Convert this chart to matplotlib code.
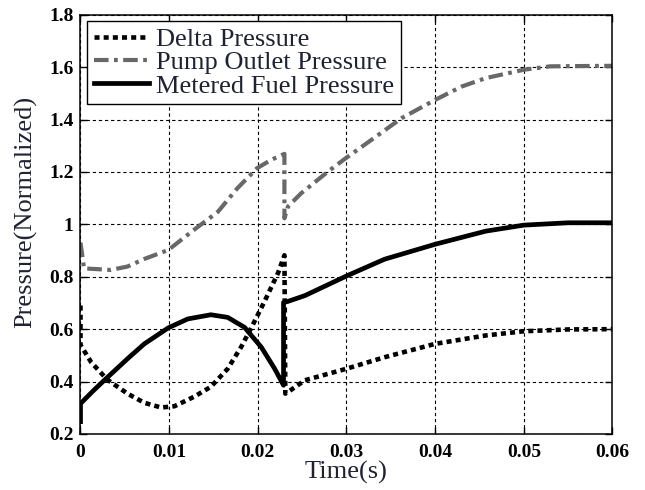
import matplotlib

matplotlib.use("Agg")
import matplotlib.pyplot as plt

# Delta pressure
delta_t = [0, 0, 0.0012, 0.003, 0.0053, 0.0072, 0.0091, 0.0106, 0.0128, 0.0147, 0.0166,
           0.0181, 0.0192, 0.0208, 0.0215, 0.0223, 0.023, 0.0231, 0.0234, 0.0253, 0.030,
           0.0343, 0.040, 0.0457, 0.050, 0.055, 0.060]
delta_p = [0.69, 0.54, 0.474, 0.408, 0.354, 0.319, 0.301, 0.306, 0.342, 0.38, 0.449,
           0.531, 0.601, 0.709, 0.759, 0.816, 0.882, 0.354, 0.36, 0.405, 0.449,
           0.493, 0.544, 0.576, 0.592, 0.599, 0.60]

# Pump outlet pressure
pump_t = [0, 0.0004, 0.0034, 0.0053, 0.0072, 0.0099, 0.0128, 0.0155, 0.0177, 0.0199,
          0.0215, 0.023, 0.023, 0.0234, 0.0249, 0.0279, 0.0299, 0.0328, 0.0362, 0.040,
          0.043, 0.0457, 0.050, 0.053, 0.060]
pump_p = [0.93, 0.832, 0.826, 0.839, 0.868, 0.902, 0.979, 1.048, 1.138, 1.214,
          1.246, 1.269, 1.023, 1.068, 1.119, 1.201, 1.252, 1.322, 1.405, 1.475,
          1.526, 1.558, 1.59, 1.603, 1.605]

# Metered fuel pressure
fuel_t = [0, 0, 0.0015, 0.003, 0.0053, 0.0072, 0.0099, 0.0121, 0.0147, 0.0166, 0.0185,
          0.0204, 0.0219, 0.0229, 0.0229, 0.0234, 0.0253, 0.030, 0.0343, 0.040, 0.0457,
          0.050, 0.055, 0.060]
fuel_p = [0.247, 0.316, 0.367, 0.415, 0.487, 0.544, 0.605, 0.639, 0.655, 0.645, 0.607,
          0.531, 0.449, 0.386, 0.702, 0.706, 0.728, 0.803, 0.867, 0.924, 0.974,
          0.997, 1.006, 1.006]

x_ticks = [0, 0.01, 0.02, 0.03, 0.04, 0.05, 0.06]
x_labels = ["0", "0.01", "0.02", "0.03", "0.04", "0.05", "0.06"]
y_ticks = [0.2, 0.4, 0.6, 0.8, 1.0, 1.2, 1.4, 1.6, 1.8]
y_labels = ["0.2", "0.4", "0.6", "0.8", "1", "1.2", "1.4", "1.6", "1.8"]

serif = "Liberation Serif"
label_color = "#1e2233"

fig = plt.figure(figsize=(6.45, 4.9), dpi=100)
ax = fig.add_axes([0.1248, 0.1143, 0.8248, 0.8557])

ax.plot(delta_t, delta_p, color="black", lw=3.3, linestyle=(0, (1.1, 0.9)),
        label="Delta Pressure")
ax.plot(pump_t, pump_p, color="#686868", lw=3.0, linestyle=(0, (3.5, 1.3, 0.9, 1.3)),
        label="Pump Outlet Pressure")
ax.plot(fuel_t, fuel_p, color="black", lw=3.4, label="Metered Fuel Pressure")

ax.set_xlim(0, 0.06)
ax.set_ylim(0.2, 1.8)
ax.set_xticks(x_ticks)
ax.set_xticklabels(x_labels)
ax.set_yticks(y_ticks)
ax.set_yticklabels(y_labels)
for lab in ax.get_xticklabels() + ax.get_yticklabels():
    lab.set_family(serif)
    lab.set_fontweight("bold")
    lab.set_fontsize(14)
ax.tick_params(axis="x", direction="in", length=5, width=1, top=True, pad=7)
ax.tick_params(axis="y", direction="in", length=5, width=1, right=True, pad=5)
ax.grid(True, color="black", linestyle=(0, (3, 2.5)), linewidth=0.8)
for spine in ax.spines.values():
    spine.set_linewidth(1.1)

ax.set_xlabel("Time(s)", family=serif, fontsize=19, color=label_color)
ax.set_ylabel("Pressure(Normalized)", family=serif, fontsize=19, color=label_color)
ax.xaxis.set_label_coords(0.5, -0.063)
ax.yaxis.set_label_coords(-0.082, 0.529)

leg = ax.legend(loc="upper left", bbox_to_anchor=(0.0128, 0.9857), borderaxespad=0,
                prop={"family": serif, "size": 19}, frameon=True, fancybox=False,
                edgecolor="black", framealpha=1, handlelength=2.1, handletextpad=0.27,
                borderpad=0.25, labelspacing=0.0)
leg.get_frame().set_linewidth(1.0)
for text in leg.get_texts():
    text.set_color(label_color)

fig.savefig("out.png", dpi=100)
